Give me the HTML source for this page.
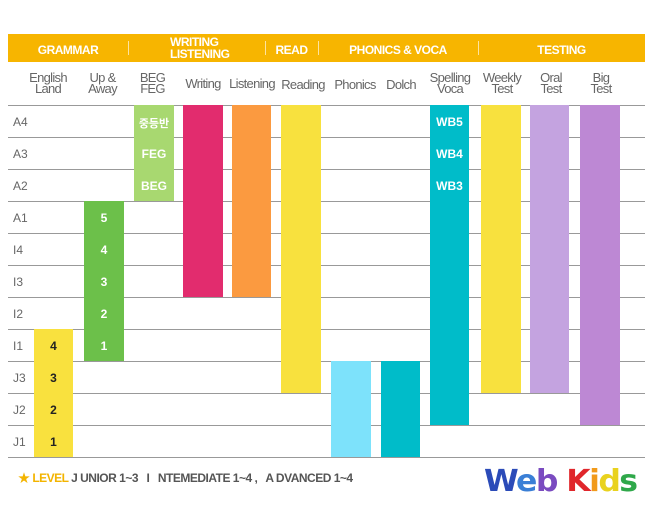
<!DOCTYPE html>
<html><head><meta charset="utf-8"><style>
body{margin:0;width:650px;height:510px;background:#fff;position:relative;font-family:"Liberation Sans","Noto Sans CJK KR",sans-serif;overflow:hidden}
.a{position:absolute}
.hd{position:absolute;top:34px;left:8px;width:637px;height:28px;background:#f7b500}
.ht{position:absolute;color:#fff;font-weight:bold;font-size:12px;text-align:center;letter-spacing:-0.5px}
.sep{position:absolute;top:41px;width:1px;height:14px;background:#fde3a0}
.sh{position:absolute;top:72px;color:#666;font-size:13px;text-align:center;line-height:11px;letter-spacing:-0.7px}
.ln{position:absolute;left:8px;width:637px;height:1px;background:#999}
.rl{position:absolute;left:13px;color:#666;font-size:12px}
.b{position:absolute;color:#fff;font-weight:bold;font-size:12px;text-align:center}
</style></head><body>
<div class="hd"></div>
<div class="ht" style="left:8px;width:120px;top:43px">GRAMMAR</div>
<div class="ht" style="left:128px;width:137px;top:36px;line-height:12px;text-align:left;padding-left:42px;box-sizing:border-box">WRITING<br>LISTENING</div>
<div class="ht" style="left:265px;width:53px;top:43px">READ</div>
<div class="ht" style="left:318px;width:160px;top:43px">PHONICS &amp; VOCA</div>
<div class="ht" style="left:478px;width:167px;top:43px">TESTING</div>
<div class="sep" style="left:128px"></div><div class="sep" style="left:265px"></div><div class="sep" style="left:318px"></div><div class="sep" style="left:478px"></div>

<div class="sh" style="left:23px;width:50px">English<br>Land</div>
<div class="sh" style="left:80px;width:45px">Up &amp;<br>Away</div>
<div class="sh" style="left:130px;width:45px">BEG<br>FEG</div>
<div class="sh" style="left:180px;width:46px;top:78px">Writing</div>
<div class="sh" style="left:225px;width:54px;top:78px">Listening</div>
<div class="sh" style="left:277px;width:52px;top:79px">Reading</div>
<div class="sh" style="left:329px;width:52px;top:79px">Phonics</div>
<div class="sh" style="left:379px;width:44px;top:79px">Dolch</div>
<div class="sh" style="left:424px;width:52px">Spelling<br>Voca</div>
<div class="sh" style="left:477px;width:50px">Weekly<br>Test</div>
<div class="sh" style="left:526px;width:50px">Oral<br>Test</div>
<div class="sh" style="left:576px;width:50px">Big<br>Test</div>

<div class="ln" style="top:105px"></div><div class="ln" style="top:137px"></div><div class="ln" style="top:169px"></div><div class="ln" style="top:201px"></div><div class="ln" style="top:233px"></div><div class="ln" style="top:265px"></div><div class="ln" style="top:297px"></div><div class="ln" style="top:329px"></div><div class="ln" style="top:361px"></div><div class="ln" style="top:393px"></div><div class="ln" style="top:425px"></div><div class="ln" style="top:457px"></div>

<div class="rl" style="top:115px">A4</div><div class="rl" style="top:147px">A3</div><div class="rl" style="top:179px">A2</div><div class="rl" style="top:211px">A1</div><div class="rl" style="top:243px">I4</div><div class="rl" style="top:275px">I3</div><div class="rl" style="top:307px">I2</div><div class="rl" style="top:339px">I1</div><div class="rl" style="top:371px">J3</div><div class="rl" style="top:403px">J2</div><div class="rl" style="top:435px">J1</div>

<div class="a" style="left:34px;top:329px;width:39px;height:128px;background:#f9e13e"></div>
<div class="b" style="left:34px;width:39px;top:339px;color:#222">4</div>
<div class="b" style="left:34px;width:39px;top:371px;color:#222">3</div>
<div class="b" style="left:34px;width:39px;top:403px;color:#222">2</div>
<div class="b" style="left:34px;width:39px;top:435px;color:#222">1</div>

<div class="a" style="left:84px;top:201px;width:40px;height:160px;background:#6cc04a"></div>
<div class="b" style="left:84px;width:40px;top:211px">5</div>
<div class="b" style="left:84px;width:40px;top:243px">4</div>
<div class="b" style="left:84px;width:40px;top:275px">3</div>
<div class="b" style="left:84px;width:40px;top:307px">2</div>
<div class="b" style="left:84px;width:40px;top:339px">1</div>

<div class="a" style="left:134px;top:105px;width:40px;height:96px;background:#a8d870"></div>
<div class="b" style="left:134px;width:40px;top:115px;font-size:11px">중등반</div>
<div class="b" style="left:134px;width:40px;top:147px">FEG</div>
<div class="b" style="left:134px;width:40px;top:179px">BEG</div>

<div class="a" style="left:183px;top:105px;width:40px;height:192px;background:#e22c6e"></div>
<div class="a" style="left:232px;top:105px;width:39px;height:192px;background:#fb9a40"></div>
<div class="a" style="left:281px;top:105px;width:40px;height:288px;background:#f8e13e"></div>
<div class="a" style="left:331px;top:361px;width:40px;height:96px;background:#7de2fb"></div>
<div class="a" style="left:381px;top:361px;width:39px;height:96px;background:#00bcc9"></div>
<div class="a" style="left:430px;top:105px;width:39px;height:320px;background:#00bcc9"></div>
<div class="b" style="left:430px;width:39px;top:115px">WB5</div>
<div class="b" style="left:430px;width:39px;top:147px">WB4</div>
<div class="b" style="left:430px;width:39px;top:179px">WB3</div>
<div class="a" style="left:481px;top:105px;width:40px;height:288px;background:#f8e13e"></div>
<div class="a" style="left:530px;top:105px;width:39px;height:288px;background:#c4a3e0"></div>
<div class="a" style="left:580px;top:105px;width:40px;height:320px;background:#bd88d4"></div>

<div class="a" style="left:18px;top:469px;font-size:12px;font-weight:bold;color:#555;letter-spacing:-0.5px"><span style="color:#f3b400">★ LEVEL</span> J UNIOR 1~3 &nbsp; I &nbsp; NTEMEDIATE 1~4 , &nbsp; A DVANCED 1~4</div>
<div class="a" style="left:484px;top:464px;font-size:30px;font-weight:900;font-family:'DejaVu Sans',sans-serif;letter-spacing:-1.5px;transform:scaleX(1.05);transform-origin:left"><span style="color:#2b4bb8">W</span><span style="color:#3a7fd6">e</span><span style="color:#7a4bc0">b</span> <span style="color:#e0262b">K</span><span style="color:#f19a1a">i</span><span style="color:#e9d21e">d</span><span style="color:#2fa84a">s</span></div>
</body></html>
